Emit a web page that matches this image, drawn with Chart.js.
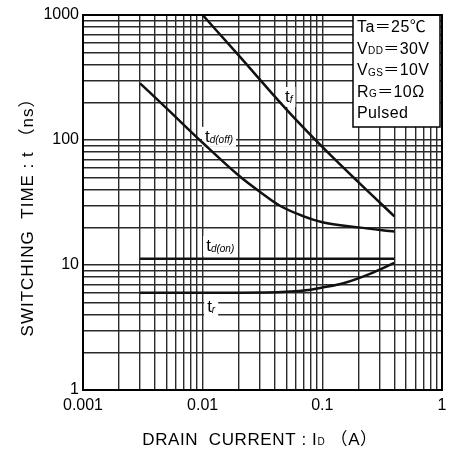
<!DOCTYPE html>
<html>
<head>
<meta charset="utf-8">
<script src="https://cdn.jsdelivr.net/npm/chart.js@4/dist/chart.umd.min.js"></script>
<style>
  html, body { margin: 0; padding: 0; background: #fff; }
  #wrap { width: 464px; height: 450px; position: relative; }
</style>
</head>
<body>
<div id="wrap"><canvas id="chartSwitch"></canvas></div>
<script>
// ---- data ----
const tfCurrent = [0.01, 0.02, 0.05, 0.1, 0.2, 0.4];
const tfTime = [1000, 475, 176, 88, 46, 24.5];

const tdOffCurrent = [0.003, 0.005, 0.01, 0.02, 0.03, 0.045, 0.07, 0.1, 0.2, 0.4];
const tdOffTime = [284, 179, 95, 52, 38.6, 29.5, 24.5, 22, 20, 18.5];

const tdOnCurrent = [0.003, 0.4];
const tdOnTime = [11.2, 11.2];

const trCurrent = [0.003, 0.02, 0.05, 0.08, 0.1, 0.15, 0.25, 0.4];
const trTime = [6.0, 6.0, 6.1, 6.35, 6.6, 7.15, 8.5, 10.4];

// tick labels
const xLabelValues = [0.001, 0.01, 0.1, 1];
const xLabels = ['0.001', '0.01', '0.1', '1'];
const yLabelValues = [1, 10, 100, 1000];
const yLabels = ['1', '10', '100', '1000'];

const FONT = "'Liberation Sans', Arial, 'Noto Sans CJK JP', sans-serif";
const INK = '#000';

// log grid: 1..9 in every decade
function logGrid(first, last) {
    const out = [];
    for (let d = first; d < last * 0.999; d *= 10) {
        for (let m = 1; m <= 9; m++) out.push(Number((d * m).toPrecision(3)));
    }
    out.push(last);
    return out;
}
const xGrid = logGrid(0.001, 1);
const yGrid = logGrid(1, 1000);

function pick(values, labels, v) {
    for (let i = 0; i < values.length; i++) {
        if (Math.abs(values[i] - v) / values[i] < 1e-6) return labels[i];
    }
    return '';
}

function series(xs, ys) {
    return xs.map((x, i) => ({ x: x, y: ys[i] }));
}

// curve labels, placed in data coordinates (left edge, vertical middle)
const curveLabels = [
    { at: [0.0487, 221], main: 't', sub: 'f' },
    { at: [0.01045, 106], main: 't', sub: 'd(off)' },
    { at: [0.0107, 14.2], main: 't', sub: 'd(on)' },
    { at: [0.0109, 4.6], main: 't', sub: 'r' }
];

// condition box lines: [text, isSub]
const conditionLines = [
    [['Ta＝25℃', false]],
    [['V', false], ['DD', true], ['＝30V', false]],
    [['V', false], ['GS', true], ['＝10V', false]],
    [['R', false], ['G', true], ['＝10Ω', false]],
    [['Pulsed', false]]
];

function drawParts(ctx, parts, x, y, center) {
    let total = 0;
    parts.forEach(p => { ctx.font = p[1]; total += ctx.measureText(p[0]).width; });
    let cx = center ? x - total / 2 : x;
    parts.forEach(p => {
        ctx.font = p[1];
        ctx.fillText(p[0], cx, y + (p[2] || 0));
        cx += ctx.measureText(p[0]).width;
    });
    return total;
}

const annotations = {
    id: 'annotations',
    beforeDatasetsDraw(chart) {
        const ctx = chart.ctx;
        const area = chart.chartArea;
        const xs = chart.scales.x, ys = chart.scales.y;
        ctx.save();
        ctx.textBaseline = 'middle';
        ctx.textAlign = 'left';

        // curve labels with white backing
        curveLabels.forEach(l => {
            const px = xs.getPixelForValue(l.at[0]);
            const py = ys.getPixelForValue(l.at[1]);
            const parts = [[l.main, '17px ' + FONT, 0], [l.sub, 'italic 10px ' + FONT, 3]];
            let w = 0;
            parts.forEach(p => { ctx.font = p[1]; w += ctx.measureText(p[0]).width; });
            ctx.fillStyle = '#fff';
            ctx.fillRect(px - 3, py - 10, w + 6, 20);
            ctx.fillStyle = INK;
            drawParts(ctx, parts, px, py, false);
        });

        // condition box
        const bw = 87, bh = 112;
        const bx = area.right - bw - 2, by = area.top;
        ctx.fillStyle = '#fff';
        ctx.fillRect(bx, by, bw, bh);
        ctx.strokeStyle = INK;
        ctx.lineWidth = 1.5;
        ctx.strokeRect(bx, by, bw, bh);
        ctx.fillStyle = INK;
        ctx.letterSpacing = '0.4px';
        conditionLines.forEach((line, i) => {
            const parts = line.map(p => p[1] ? [p[0], '10px ' + FONT, 2] : [p[0], '16px ' + FONT, 0]);
            drawParts(ctx, parts, bx + 4, by + 13 + i * 21.5, false);
        });
        ctx.restore();
    },
    afterDraw(chart) {
        const ctx = chart.ctx;
        const area = chart.chartArea;
        ctx.save();
        // frame
        ctx.strokeStyle = INK;
        ctx.lineWidth = 2;
        ctx.strokeRect(area.left, area.top, area.right - area.left, area.bottom - area.top);

        // axis titles
        ctx.fillStyle = INK;
        ctx.textBaseline = 'middle';
        ctx.textAlign = 'left';
        ctx.letterSpacing = '0.6px';
        drawParts(ctx, [
            ['DRAIN  CURRENT : I', '17px ' + FONT, 0],
            ['D', '10px ' + FONT, 2],
            [' （A）', '17px ' + FONT, 0]
        ], 260, 440, true);

        ctx.translate(28, 213);
        ctx.rotate(-Math.PI / 2);
        ctx.letterSpacing = '1px';
        drawParts(ctx, [['SWITCHING  TIME : t （ns）', '17px ' + FONT, 0]], 0, 0, true);
        ctx.restore();
    }
};

const lineStyle = {
    borderColor: '#111',
    borderWidth: 2.5,
    pointRadius: 0,
    fill: false,
    cubicInterpolationMode: 'monotone'
};

new Chart(document.getElementById('chartSwitch'), {
    type: 'line',
    data: {
        datasets: [
            Object.assign({ label: 'tf', data: series(tfCurrent, tfTime) }, lineStyle),
            Object.assign({ label: 'td(off)', data: series(tdOffCurrent, tdOffTime) }, lineStyle),
            Object.assign({ label: 'td(on)', data: series(tdOnCurrent, tdOnTime) }, lineStyle),
            Object.assign({ label: 'tr', data: series(trCurrent, trTime) }, lineStyle)
        ]
    },
    options: {
        responsive: true,
        maintainAspectRatio: false,
        animation: false,
        layout: { padding: { top: 15, right: 22, left: 0, bottom: 0 } },
        scales: {
            x: {
                type: 'logarithmic',
                min: 0.001, max: 1,
                afterBuildTicks: s => { s.ticks = xGrid.map(v => ({ value: v })); },
                afterFit: s => { s.height = 60; },
                ticks: {
                    autoSkip: false, maxRotation: 0, padding: 6,
                    color: INK, font: { family: FONT, size: 16 },
                    callback: v => pick(xLabelValues, xLabels, v)
                },
                grid: { color: '#2a2a2a', lineWidth: 1.4, drawTicks: false },
                border: { display: false }
            },
            y: {
                type: 'logarithmic',
                min: 1, max: 1000,
                afterBuildTicks: s => { s.ticks = yGrid.map(v => ({ value: v })); },
                afterFit: s => { s.width = 83; },
                ticks: {
                    autoSkip: false, padding: 4,
                    color: INK, font: { family: FONT, size: 16 },
                    callback: v => pick(yLabelValues, yLabels, v)
                },
                grid: { color: '#2a2a2a', lineWidth: 1.4, drawTicks: false },
                border: { display: false }
            }
        },
        plugins: { legend: { display: false }, tooltip: { enabled: false } }
    },
    plugins: [annotations]
});
</script>
</body>
</html>
